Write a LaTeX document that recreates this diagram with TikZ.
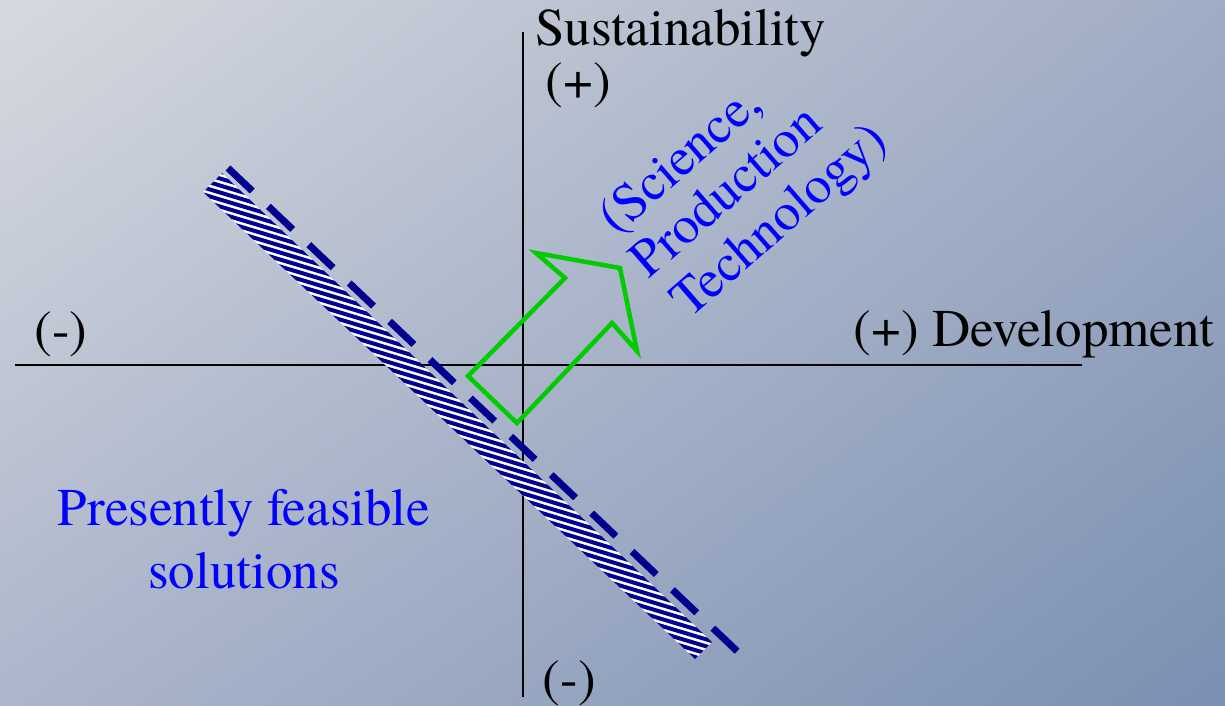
\documentclass[tikz,border=0pt]{standalone}
\usepackage{fontspec}
\setmainfont{texgyretermes-regular.otf}
\usepackage{tikz}
\usetikzlibrary{calc,positioning,shadings}
\definecolor{bgTL}{RGB}{214,217,223}
\definecolor{bgTR}{RGB}{160,172,196}
\definecolor{bgBL}{RGB}{172,182,203}
\definecolor{bgBR}{RGB}{122,143,178}
\definecolor{navyband}{RGB}{0,0,145}
\definecolor{bluetext}{RGB}{0,0,255}
\definecolor{greenarrow}{RGB}{0,204,0}

\begin{document}
\begin{tikzpicture}[x=1pt, y=-1pt,
  axis/.style={line width=2pt, black},
  lbl/.style={inner sep=0pt, anchor=base west, font=\fontsize{53}{63}\selectfont},
  bluelbl/.style={lbl, text=bluetext},
  stripe/.style={line width=4pt, navyband},
  frontier/.style={line width=7pt, navyband, dash pattern=on 33.5pt off 22.2pt},
  shift arrow/.style={line width=4.5pt, greenarrow, miter limit=20}]
\useasboundingbox (0,0) rectangle (1225,706);
\shade[upper left=bgTL, upper right=bgTR, lower left=bgBL, lower right=bgBR] (0,0) rectangle (1225,706);
%
\coordinate (xL) at (15,365);
\coordinate (xR) at (1082,365);
\coordinate (yT) at (523,32);
\coordinate (yB) at (523,697);
\draw[axis] (xL) -- (xR);
\draw[axis] (yT) -- (yB);
%
\node[lbl] (sust) at (535,46) {Sustainability};
\node[lbl] (splus) at (545.5,98.6) {(+)};
\node[lbl] (sminus) at (542.5,696.5) {(-)};
\node[lbl] (dminus) at (34.5,347) {(-)};
\node[lbl] (dev) at (853.5,346) {(+) Development};
%
% hatched band of present solutions
\coordinate (b1) at (203,192);
\coordinate (b2) at (222,173);
\coordinate (b3) at (712,642);
\coordinate (b4) at (695,659);
\begin{scope}
\clip (b1) -- (b2) -- (b3) -- (b4) -- cycle;
\fill[white] (b1) -- (b2) -- (b3) -- (b4) -- cycle;
\foreach \y in {10,17,...,665}
  \draw[stripe] (195,\y) -- (720,\y+157.5);
\end{scope}
%
\coordinate (f1) at (228,168);
\coordinate (f2) at (738,652);
\draw[frontier] (f1) -- (f2);
%
% shift of the frontier
\draw[shift arrow] (468,376) -- (517,423) -- (612,323) -- (637,351)
  -- (620,268) -- (536,253) -- (565,278) -- cycle;
%
\node[bluelbl, rotate=41] (sci) at (616.6,236) {(Science,};
\node[bluelbl, rotate=41] (prod) at (648.8,280) {Production};
\node[bluelbl, rotate=41] (tech) at (689,319.5) {Technology)};
\node[bluelbl, align=center, anchor=north] (feas) at (244,489) {Presently feasible\\solutions};
\end{tikzpicture}
\end{document}
